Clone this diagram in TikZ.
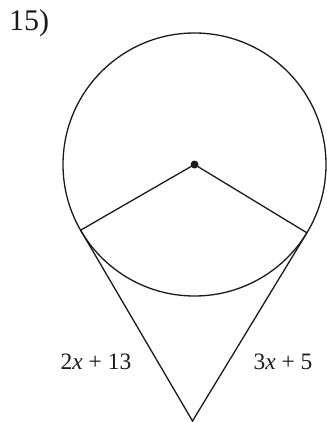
\documentclass[tikz,border=0pt]{standalone}
\usepackage{fontspec}
\setmainfont{Liberation Serif}
\usepackage{tikz}
\usetikzlibrary{calc}
\definecolor{inkdark}{HTML}{1A1A1A}
\tikzset{
  edge/.style={draw=inkdark, line width=1.3pt},
  lbl/.style={font=\fontsize{23.5}{27}\selectfont, text=inkdark, inner sep=0pt},
  num/.style={font=\fontsize{30}{34}\selectfont, text=inkdark, inner sep=0pt},
}

\begin{document}
\begin{tikzpicture}[x=1pt, y=-1pt]
  \useasboundingbox (0,0) rectangle (326,422);
  \node[num] (qnum) at (29,23) {15)};
  \coordinate (ctr) at (194.5,164.5);
  \draw[edge] (ctr) circle[radius=131.5];
  \fill[inkdark] (ctr) circle[radius=4pt];
  \coordinate (tl) at ($(ctr)+(-113.9,65.7)$);
  \coordinate (tr) at ($(ctr)+(112.4,68.3)$);
  \coordinate (apex) at (192.5,421);
  \draw[edge] (tl) -- (ctr) -- (tr);
  \draw[edge] (tl) -- (apex) -- (tr);
  \node[lbl] (lleft) at (96,362) {2\textit{x} + 13};
  \node[lbl] (lright) at (283,362) {3\textit{x} + 5};
\end{tikzpicture}
\end{document}
